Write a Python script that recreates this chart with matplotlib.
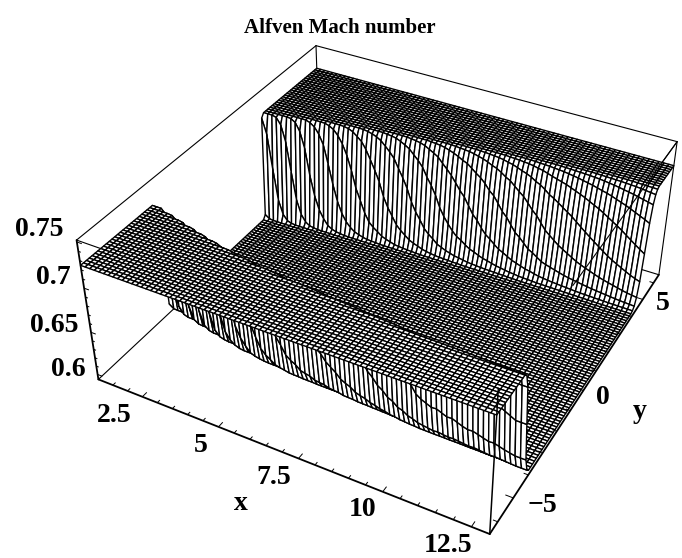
import matplotlib
matplotlib.use("Agg")
import matplotlib.pyplot as plt
from matplotlib.collections import PolyCollection, LineCollection
import numpy as np

TITLE = "Alfven Mach number"
X_RANGE = (1.0, 13.0)
Y_RANGE = (-6.5, 6.5)
Z_RANGE = (0.594, 0.752)

# plateau and shelf heights read against the z axis
Z_HIGH = 0.725
Z_LOW = 0.6

# box corners as (x, y, z) and where they sit in the picture
BOX_DATA = [(1, -6.5, 0.594), (13, -6.5, 0.594), (1, -6.5, 0.752), (1, 6.5, 0.752),
            (13, 6.5, 0.752), (13, 6.5, 0.594), (13, -6.5, 0.752)]
BOX_PIXELS = [(98, 380), (490, 533), (77, 239), (316, 46), (677, 141), (659, 275), (498, 390)]

# far wall: row of the middle of the drop, for each column
FAR_CENTER = [71.5, 71.75, 72, 72.25, 72.5, 72.75, 73, 73.25, 73.5, 73.75, 74.0,
              74.2, 74.4, 74.6, 74.85, 75.05, 75.25, 75.45, 75.65, 75.85, 76.05,
              76.2, 76.4, 76.6, 76.75, 76.9, 77.1, 77.25, 77.4, 77.6, 77.75,
              77.9, 78.1, 78.25, 78.4, 78.6, 78.75, 78.9, 79.1, 79.25, 79.4,
              79.55, 79.7, 79.8, 79.95, 80.1, 80.2, 80.35, 80.5, 80.6, 80.75,
              80.9, 81.0, 81.15, 81.3, 81.4, 81.55, 81.7, 81.8, 81.95, 82.1,
              82.2, 82.3, 82.4, 82.5, 82.6, 82.7, 82.8, 82.9, 83.0, 83.1,
              83.2, 83.3, 83.4, 83.5, 83.6, 83.7, 83.8, 83.9, 84.0, 84.1]
# half width of the drop in rows, same columns
FAR_WIDTH = [0.8, 0.85, 0.9, 0.95, 1.0, 1.05, 1.1, 1.15, 1.2, 1.25, 1.3,
             1.35, 1.4, 1.45, 1.5, 1.55, 1.6, 1.65, 1.7, 1.75, 1.8,
             1.85, 1.9, 1.95, 2.0, 2.05, 2.1, 2.15, 2.2, 2.25, 2.3,
             2.35, 2.4, 2.45, 2.5, 2.55, 2.6, 2.65, 2.7, 2.75, 2.8,
             2.85, 2.9, 2.95, 3.0, 3.05, 3.1, 3.15, 3.2, 3.25, 3.3,
             3.35, 3.4, 3.45, 3.5, 3.55, 3.6, 3.65, 3.7, 3.75, 3.8,
             3.85, 3.9, 3.95, 4.0, 4.05, 4.1, 4.15, 4.2, 4.25, 4.3,
             4.35, 4.4, 4.45, 4.5, 4.55, 4.6, 4.65, 4.7, 4.75, 4.8]
# near wall: row of the crest, for each column, read from the dark crease
NEAR_CREST = [26.7, 26.35, 26, 25.6, 25.25, 24.9, 24.55, 24.2, 23.8, 23.45, 23.1,
              22.75, 22.4, 22.05, 21.7, 21.38, 21.07, 20.77, 20.48, 20.2, 19.93,
              19.67, 19.42, 19.18, 18.95, 18.73, 18.52, 18.32, 18.13, 17.95, 17.78,
              17.62, 17.47, 17.33, 17.2, 17.07, 16.95, 16.83, 16.71, 16.6, 16.49,
              16.36, 16.23, 16.1, 15.97, 15.84, 15.71, 15.58, 15.45, 15.32, 15.19,
              15.06, 14.93, 14.8, 14.67, 14.54, 14.41, 14.28, 14.15, 14.02, 13.9,
              13.85, 13.8, 13.75, 13.7, 13.65, 13.6, 13.55, 13.5, 13.45, 13.4,
              13.35, 13.3, 13.25, 13.2, 13.15, 13.1, 13.05, 13.0, 13.0, 13.0]
NEAR_WIDTH = [0.8, 0.85, 0.9, 0.95, 1.0, 1.05, 1.1, 1.1, 1.15, 1.2, 1.2,
              1.25, 1.3, 1.3, 1.35, 1.4, 1.4, 1.45, 1.5, 1.5, 1.55,
              1.6, 1.6, 1.65, 1.7, 1.7, 1.75, 1.8, 1.8, 1.85, 1.9,
              1.9, 1.95, 2.0, 2.0, 2.05, 2.1, 2.1, 2.15, 2.2, 2.2,
              2.25, 2.3, 2.3, 2.35, 2.4, 2.4, 2.45, 2.5, 2.5, 2.55,
              2.55, 2.6, 2.6, 2.65, 2.65, 2.7, 2.7, 2.75, 2.75, 2.8,
              2.8, 2.8, 2.85, 2.85, 2.85, 2.9, 2.9, 2.9, 2.9, 2.95,
              2.95, 2.95, 2.95, 3.0, 3.0, 3.0, 3.0, 3.0, 3.0, 3.0]
# share of the drop done, across the width of a wall
DROP_SHAPE = [0, .005, .01, .02, .04, .07, .11, .17, .25, .36, .5,
              .64, .75, .83, .89, .93, .96, .98, .99, .995, 1]

X_MAJOR = [2.5, 5, 7.5, 10, 12.5]
X_MINOR = [1.5, 2, 3, 3.5, 4, 4.5, 5.5, 6, 6.5, 7, 8, 8.5, 9, 9.5, 10.5, 11, 11.5, 12]
Y_MAJOR = [-5, 0, 5]
Y_MINOR = [-6, -4, -3, -2, -1, 1, 2, 3, 4, 6]
Z_MAJOR = [0.6, 0.65, 0.7, 0.75]
Z_MINOR = [0.61, 0.62, 0.63, 0.64, 0.66, 0.67, 0.68, 0.69, 0.71, 0.72, 0.73, 0.74]

X_LABELS = ["2.5", "5", "7.5", "10", "12.5"]
X_LABEL_POS = [(114, 415), (201, 445), (274, 477), (363, 510), (448, 546)]
Y_LABELS = ["\u22125", "0", "5"]
Y_LABEL_POS = [(542, 506), (603, 397), (663, 303)]
Z_LABELS = ["0.6", "0.65", "0.7", "0.75"]
Z_LABEL_POS = [(68, 370), (54, 325), (53, 278), (39, 229)]

N_ROWS = 100


def fit_camera(world, pixels):
    # plain DLT from box corners
    rows = []
    for (x, y, z), (u, v) in zip(world, pixels):
        rows.append([x, y, z, 1, 0, 0, 0, 0, -u * x, -u * y, -u * z, -u])
        rows.append([0, 0, 0, 0, x, y, z, 1, -v * x, -v * y, -v * z, -v])
    _, _, vt = np.linalg.svd(np.array(rows, dtype=float))
    return vt[-1].reshape(3, 4)


def project(cam, x, y, z):
    pts = np.stack([x, y, z, np.ones_like(x)], axis=-1)
    h = pts @ cam.T
    return h[..., :2] / h[..., 2:3]


def surface_heights():
    rows = np.arange(N_ROWS)[None, :]
    shape_pos = np.linspace(-1, 1, len(DROP_SHAPE))

    far_c = np.array(FAR_CENTER)[:, None]
    far_w = np.array(FAR_WIDTH)[:, None]
    near_w = np.array(NEAR_WIDTH)[:, None]
    near_c = np.array(NEAR_CREST)[:, None] + near_w

    far = np.interp((rows - far_c) / far_w, shape_pos, DROP_SHAPE)
    near = np.interp((near_c - rows) / near_w, shape_pos, DROP_SHAPE)
    return Z_LOW + (Z_HIGH - Z_LOW) * (far + near)


cam = fit_camera(BOX_DATA, BOX_PIXELS)
cam_pos = np.linalg.svd(cam)[2][-1]
cam_pos = cam_pos[:3] / cam_pos[3]

fig = plt.figure(figsize=(6.82, 5.58), dpi=100)
ax = fig.add_axes([0, 0, 1, 1])
ax.set(xlim=(0, 682), ylim=(558, 0))
ax.axis("off")


def edge(p, q, lw=0.8, zorder=1):
    xs, ys, zs = np.array([p, q], dtype=float).T
    uv = project(cam, xs, ys, zs)
    ax.plot(uv[:, 0], uv[:, 1], color="k", lw=lw, zorder=zorder, solid_capstyle="round")


x0, x1 = X_RANGE
y0, y1 = Y_RANGE
z0, z1 = Z_RANGE

# box edges behind the surface
edge((x0, y0, z1), (x1, y0, z1))
edge((x0, y0, z1), (x0, y1, z1))
edge((x0, y1, z1), (x1, y1, z1))
edge((x0, y1, z1), (x0, y1, z0))
edge((x0, y0, z0), (x0, y1, z0))
edge((x0, y1, z0), (x1, y1, z0))

# surface, far cells first
Z = surface_heights()
X, Y = np.meshgrid(np.linspace(x0, x1, Z.shape[0]), np.linspace(y0, y1, N_ROWS), indexing="ij")
uv = project(cam, X, Y, Z)
quads = np.stack([uv[:-1, :-1], uv[1:, :-1], uv[1:, 1:], uv[:-1, 1:]], axis=2)
mid_x = (X[:-1, :-1] + X[1:, 1:]) / 2
mid_y = (Y[:-1, :-1] + Y[1:, 1:]) / 2
mid_z = (Z[:-1, :-1] + Z[1:, :-1] + Z[1:, 1:] + Z[:-1, 1:]) / 4
dist = (mid_x - cam_pos[0]) ** 2 + (mid_y - cam_pos[1]) ** 2 + (mid_z - cam_pos[2]) ** 2
order = np.argsort(-dist.ravel())
polys = quads.reshape(-1, 4, 2)[order]
ax.add_collection(PolyCollection(polys, facecolors="white", edgecolors="k", linewidths=1.0, zorder=2))

# axes and the edges that stay in front
edge((x0, y0, z0), (x1, y0, z0), lw=1.3, zorder=3)
edge((x1, y0, z0), (x1, y1, z0), lw=1.3, zorder=3)
edge((x0, y0, z0), (x0, y0, z1), lw=1.3, zorder=3)
edge((x1, y0, z0), (x1, y0, z1), lw=1.1, zorder=3)
edge((x1, y1, z0), (x1, y1, z1), zorder=3)
edge((x1, y1, z1), (x1, y0, z1), zorder=1)
edge((x1, -1.8, z1), (x1, y1, z1), zorder=3)

# ticks
segs = []
for v in X_MAJOR + X_MINOR:
    s = 0.22 if v in X_MAJOR else 0.13
    segs.append(project(cam, np.array([v, v]), np.array([y0, y0 + s]), np.array([z0, z0])))
for v in Y_MAJOR + Y_MINOR:
    s = 0.22 if v in Y_MAJOR else 0.13
    segs.append(project(cam, np.array([x1, x1 - s]), np.array([v, v]), np.array([z0, z0])))
for v in Z_MAJOR + Z_MINOR:
    s = 0.16 if v in Z_MAJOR else 0.08
    segs.append(project(cam, np.array([x0, x0 + s]), np.array([y0, y0]), np.array([v, v])))
ax.add_collection(LineCollection(segs, colors="k", linewidths=0.7, zorder=3))

font = dict(family="Liberation Serif", weight="bold", ha="center", va="center", color="k")
for lab, pos in zip(X_LABELS + Y_LABELS + Z_LABELS, X_LABEL_POS + Y_LABEL_POS + Z_LABEL_POS):
    ax.text(pos[0], pos[1], lab, fontsize=20, **font)
ax.text(241, 503, "x", fontsize=20, **font)
ax.text(640, 411, "y", fontsize=20, **font)
ax.text(340, 28, TITLE, fontsize=15, **font)

fig.savefig("out.png", dpi=100)
